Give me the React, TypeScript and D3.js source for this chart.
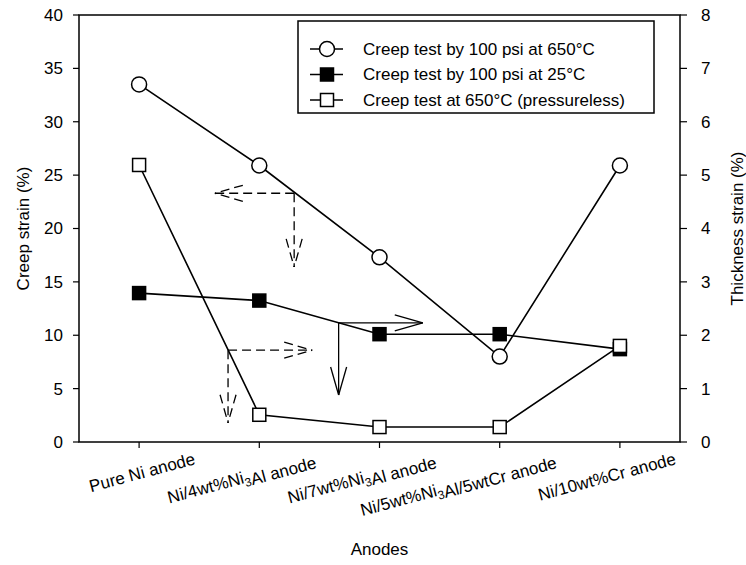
import React, { useEffect, useRef } from "react";
import * as d3 from "d3";

// categories (x axis), "{3}" marks a subscript
const anodes = [
  "Pure Ni anode",
  "Ni/4wt%Ni{3}Al anode",
  "Ni/7wt%Ni{3}Al anode",
  "Ni/5wt%Ni{3}Al/5wtCr anode",
  "Ni/10wt%Cr anode",
];

// creep strain (%), left axis
const creepHot = [33.5, 25.9, 17.3, 8.0, 25.9];
// thickness strain (%), right axis
const thickRoom = [2.79, 2.65, 2.02, 2.02, 1.74];
const thickHot = [5.19, 0.51, 0.28, 0.28, 1.8];

const leftTicks = [0, 5, 10, 15, 20, 25, 30, 35, 40];
const rightTicks = [0, 1, 2, 3, 4, 5, 6, 7, 8];

const legendNames = [
  "Creep test by 100 psi at 650°C",
  "Creep test by 100 psi at 25°C",
  "Creep test at 650°C (pressureless)",
];

// guide arrows: start on a line (x as category index), pointing to axis
const guides = [
  { x: 1.29, y: 23.3, axis: "left", toX: 0.63, toY: 16.4, dashed: true },
  { x: 1.66, y: 2.23, axis: "right", toX: 2.36, toY: 0.88, dashed: false },
  { x: 0.74, y: 1.72, axis: "right", toX: 1.44, toY: 0.36, dashed: true },
];

const W = 746;
const H = 565;
const FONT = "'Liberation Sans', Arial, sans-serif";

export default function App() {
  const ref = useRef<SVGSVGElement>(null);

  useEffect(() => {
    const svg = d3.select(ref.current);
    svg.selectAll("*").remove();

    const left = 79;
    const right = 680;
    const top = 15;
    const bottom = 442;

    const x = d3.scalePoint<string>().domain(anodes).range([left, right]).padding(0.5);
    const xi = d3.scaleLinear().domain([-0.5, anodes.length - 0.5]).range([left, right]);
    const yL = d3.scaleLinear().domain([0, 40]).range([bottom, top]);
    const yR = d3.scaleLinear().domain([0, 8]).range([bottom, top]);

    const g = svg.append("g").style("font-family", FONT);

    // frame
    g.append("rect")
      .attr("x", left)
      .attr("y", top)
      .attr("width", right - left)
      .attr("height", bottom - top)
      .attr("fill", "none")
      .attr("stroke", "#000")
      .attr("stroke-width", 1.5);

    // left axis
    const la = g.append("g").attr("transform", `translate(${left},0)`);
    la.selectAll("line")
      .data(leftTicks)
      .enter()
      .append("line")
      .attr("x1", -6)
      .attr("x2", 0)
      .attr("y1", (d) => yL(d))
      .attr("y2", (d) => yL(d))
      .attr("stroke", "#000")
      .attr("stroke-width", 1.2);
    la.selectAll("text")
      .data(leftTicks)
      .enter()
      .append("text")
      .attr("x", -16)
      .attr("y", (d) => yL(d))
      .attr("dy", "0.35em")
      .attr("text-anchor", "end")
      .style("font-size", "17px")
      .text((d) => d);

    // right axis
    const ra = g.append("g").attr("transform", `translate(${right},0)`);
    ra.selectAll("line")
      .data(rightTicks)
      .enter()
      .append("line")
      .attr("x1", 0)
      .attr("x2", 7)
      .attr("y1", (d) => yR(d))
      .attr("y2", (d) => yR(d))
      .attr("stroke", "#000")
      .attr("stroke-width", 1.2);
    ra.selectAll("text")
      .data(rightTicks)
      .enter()
      .append("text")
      .attr("x", 21)
      .attr("y", (d) => yR(d))
      .attr("dy", "0.35em")
      .style("font-size", "17px")
      .text((d) => d);

    // bottom axis
    const ba = g.append("g").attr("transform", `translate(0,${bottom})`);
    ba.selectAll("line")
      .data(anodes)
      .enter()
      .append("line")
      .attr("x1", (d) => x(d)!)
      .attr("x2", (d) => x(d)!)
      .attr("y1", 0)
      .attr("y2", 6)
      .attr("stroke", "#000")
      .attr("stroke-width", 1.2);
    const lab = ba
      .selectAll("text")
      .data(anodes)
      .enter()
      .append("text")
      .attr("transform", (d) => `translate(${x(d)! + 57},22) rotate(-15)`)
      .attr("text-anchor", "end")
      .style("font-size", "17px");
    lab.each(function (d) {
      const t = d3.select(this);
      d.split(/(\{\d\})/).forEach((part) => {
        if (!part) return;
        if (part.startsWith("{")) {
          t.append("tspan").attr("dy", 4).style("font-size", "12px").text(part.slice(1, -1));
          t.append("tspan").attr("dy", -4).text("");
        } else {
          t.append("tspan").text(part);
        }
      });
    });

    // axis titles
    g.append("text")
      .attr("transform", `translate(29,${(top + bottom) / 2}) rotate(-90)`)
      .attr("text-anchor", "middle")
      .style("font-size", "17px")
      .text("Creep strain (%)");
    g.append("text")
      .attr("transform", `translate(743,${(top + bottom) / 2}) rotate(-90)`)
      .attr("text-anchor", "middle")
      .style("font-size", "17px")
      .text("Thickness strain (%)");
    g.append("text")
      .attr("x", (left + right) / 2)
      .attr("y", 555)
      .attr("text-anchor", "middle")
      .style("font-size", "17px")
      .text("Anodes");

    // guide arrows
    const head = (p: any, tx: number, ty: number, dx: number, dy: number, dash: string) => {
      const len = 28;
      const sp = 8;
      const px = -dy;
      const py = dx;
      [1, -1].forEach((s) => {
        p.append("line")
          .attr("x1", tx - dx * len + px * sp * s)
          .attr("y1", ty - dy * len + py * sp * s)
          .attr("x2", tx)
          .attr("y2", ty)
          .attr("stroke", "#000")
          .attr("stroke-width", 1.3)
          .attr("stroke-dasharray", dash);
      });
    };
    guides.forEach((a) => {
      const ys = a.axis === "left" ? yL : yR;
      const ox = xi(a.x);
      const oy = ys(a.y);
      const tx = xi(a.toX);
      const ty = ys(a.toY);
      const dash = a.dashed ? "9,5" : "none";
      const ag = g.append("g");
      ag.append("line")
        .attr("x1", ox).attr("y1", oy).attr("x2", tx).attr("y2", oy)
        .attr("stroke", "#000").attr("stroke-width", 1.3).attr("stroke-dasharray", dash);
      ag.append("line")
        .attr("x1", ox).attr("y1", oy).attr("x2", ox).attr("y2", ty)
        .attr("stroke", "#000").attr("stroke-width", 1.3).attr("stroke-dasharray", dash);
      head(ag, tx, oy, Math.sign(tx - ox), 0, dash);
      head(ag, ox, ty, 0, 1, dash);
    });

    // series
    const series = [
      { vals: creepHot, y: yL, mark: "circle", fill: "#fff" },
      { vals: thickRoom, y: yR, mark: "square", fill: "#000" },
      { vals: thickHot, y: yR, mark: "square", fill: "#fff" },
    ];
    series.forEach((s) => {
      const line = d3
        .line<number>()
        .x((_, i) => x(anodes[i])!)
        .y((d) => s.y(d));
      g.append("path")
        .attr("d", line(s.vals)!)
        .attr("fill", "none")
        .attr("stroke", "#000")
        .attr("stroke-width", 1.6);
    });
    series.forEach((s) => {
      const mg = g.append("g");
      s.vals.forEach((v, i) => {
        const cx = x(anodes[i])!;
        const cy = s.y(v);
        if (s.mark === "circle") {
          mg.append("circle").attr("cx", cx).attr("cy", cy).attr("r", 7.5)
            .attr("fill", s.fill).attr("stroke", "#000").attr("stroke-width", 1.5);
        } else {
          mg.append("rect").attr("x", cx - 6.5).attr("y", cy - 6.5).attr("width", 13).attr("height", 13)
            .attr("fill", s.fill).attr("stroke", "#000").attr("stroke-width", 1.5);
        }
      });
    });

    // legend
    const lg = g.append("g");
    lg.append("rect")
      .attr("x", 298).attr("y", 21).attr("width", 356).attr("height", 92)
      .attr("fill", "#fff").attr("stroke", "#000").attr("stroke-width", 1.5);
    legendNames.forEach((name, i) => {
      const s = series[i];
      const ly = 49 + i * 25.5;
      lg.append("line").attr("x1", 310).attr("x2", 343).attr("y1", ly).attr("y2", ly)
        .attr("stroke", "#000").attr("stroke-width", 1.6);
      if (s.mark === "circle") {
        lg.append("circle").attr("cx", 327).attr("cy", ly).attr("r", 7.5)
          .attr("fill", s.fill).attr("stroke", "#000").attr("stroke-width", 1.5);
      } else {
        lg.append("rect").attr("x", 320.5).attr("y", ly - 6.5).attr("width", 13).attr("height", 13)
          .attr("fill", s.fill).attr("stroke", "#000").attr("stroke-width", 1.5);
      }
      lg.append("text").attr("x", 363).attr("y", ly).attr("dy", "0.35em")
        .style("font-size", "17px").text(name);
    });
  }, []);

  return (
    <svg
      ref={ref}
      width={W}
      height={H}
      style={{ position: "absolute", left: 0, top: 0, background: "#fff" }}
    />
  );
}
